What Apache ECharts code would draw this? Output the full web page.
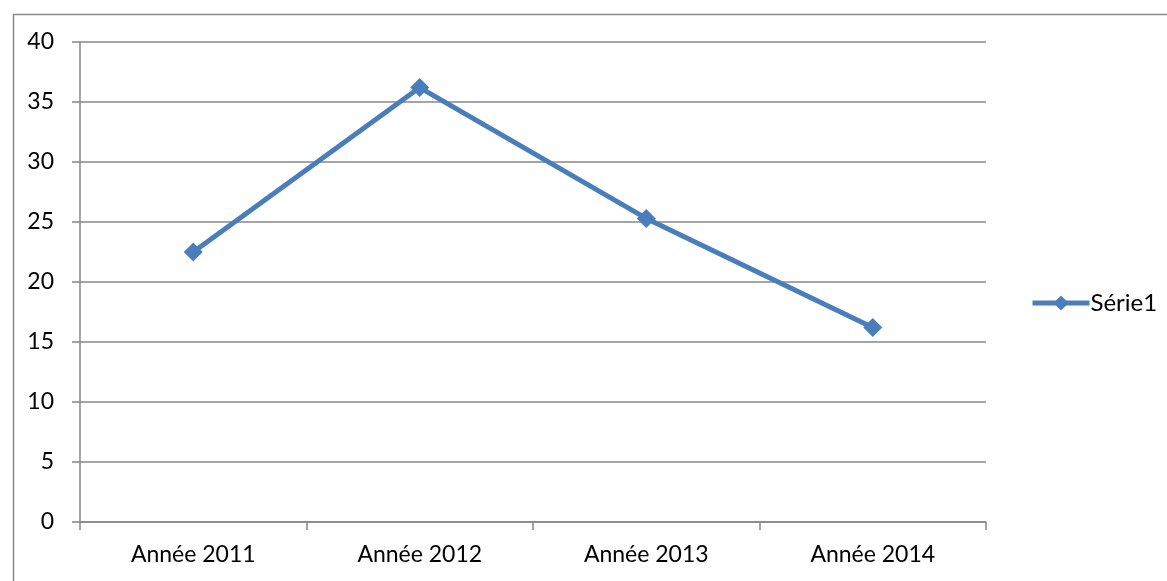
<!DOCTYPE html>
<html>
<head>
<meta charset="utf-8">
<script src="https://cdn.jsdelivr.net/npm/echarts@6/dist/echarts.min.js"></script>
<style>html,body{margin:0;padding:0;background:#fff;}#c{width:1167px;height:581px;}</style>
</head>
<body>
<div id="c"></div>
<script>
var categories = ['Année 2011', 'Année 2012', 'Année 2013', 'Année 2014'];
var serie1 = [22.5, 36.2, 25.3, 16.2];
var seriesName = 'Série1';
var yMin = 0, yMax = 40, yStep = 5;

var chart = echarts.init(document.getElementById('c'));
var font = 'Lato, "Open Sans", sans-serif';
chart.setOption({
  animation: false,
  backgroundColor: '#fff',
  textStyle: { fontFamily: font },
  graphic: [{
    type: 'rect', left: 11, top: 12,
    shape: { width: 1200, height: 620 },
    style: { fill: 'none', stroke: '#8a8a8a', lineWidth: 1.5 },
    silent: true, z: -1
  }],
  grid: { left: 80, right: 181, top: 42, bottom: 59, containLabel: false },
  legend: {
    data: [seriesName], orient: 'vertical', left: 1025, top: 286,
    itemWidth: 57, itemHeight: 19, itemGap: 4,
    lineStyle: { width: 5 },
    textStyle: { fontFamily: font, fontSize: 24, color: '#000', padding: [0, 0, 0, -4] }
  },
  xAxis: {
    type: 'category', data: categories, boundaryGap: true,
    axisLine: { lineStyle: { color: '#878787', width: 1.5 } },
    axisTick: { show: true, length: 8, alignWithLabel: false, lineStyle: { color: '#878787', width: 1.5 } },
    axisLabel: { color: '#000', fontSize: 23, fontFamily: font, margin: 21 },
    splitLine: { show: false }
  },
  yAxis: {
    type: 'value', min: yMin, max: yMax, interval: yStep,
    axisLine: { show: true, lineStyle: { color: '#878787', width: 1.5 } },
    axisTick: { show: true, length: 8, lineStyle: { color: '#878787', width: 1.5 } },
    axisLabel: { color: '#000', fontSize: 23, fontFamily: font, margin: 26 },
    splitLine: { show: true, lineStyle: { color: '#878787', width: 1.5 } }
  },
  series: [{
    name: seriesName, type: 'line', data: serie1,
    symbol: 'diamond', symbolSize: 19,
    itemStyle: { color: '#4a7ebb' },
    lineStyle: { color: '#4a7ebb', width: 5 }
  }]
});
</script>
</body>
</html>
